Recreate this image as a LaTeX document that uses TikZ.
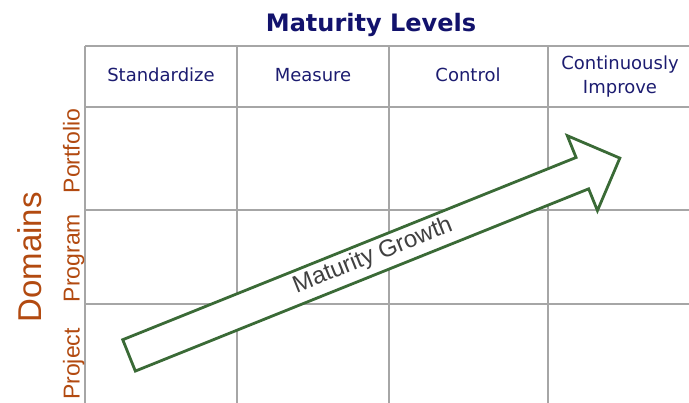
\documentclass[tikz,border=0pt]{standalone}
\usepackage{fontspec}
\setmainfont{Liberation Sans}
\newfontfamily\verdanafont{DejaVu Sans}
\usepackage{xcolor}
\usepackage{tikz}
\usetikzlibrary{shapes.arrows,positioning}
\definecolor{titlenavy}{RGB}{18,18,108}
\definecolor{levelnavy}{RGB}{28,28,112}
\definecolor{domainbrown}{RGB}{178,74,16}
\definecolor{growthgreen}{RGB}{58,106,54}
\definecolor{growthtext}{RGB}{64,64,64}
\definecolor{gridgray}{RGB}{166,166,166}

\begin{document}
\begin{tikzpicture}[
  x=1pt, y=-1pt,
  gridline/.style={draw=gridgray, line width=1.5pt},
  level/.style={align=center, text=levelnavy,
                font=\verdanafont\fontsize{18}{24}\selectfont},
  domainlabel/.style={rotate=90, anchor=base, text=domainbrown,
                 font=\fontsize{23}{26}\selectfont},
  growth/.style={single arrow, draw=growthgreen, fill=white, line width=2.8pt,
                 rotate=21.9, minimum height=529pt, inner xsep=0pt, inner ysep=6.5pt,
                 text height=16pt, text depth=2pt, single arrow head extend=23.5pt,
                 single arrow tip angle=90},
  growthtxt/.style={rotate=21.9, text=growthtext, font=\fontsize{24}{26}\selectfont}
]
\useasboundingbox (0,0) rectangle (689,403);

% grid
\foreach \y in {46,107,210,304}
  \draw[gridline] (85,\y) -- (689,\y);
\foreach \x in {85,237,389,548}
  \draw[gridline] (\x,46) -- (\x,403);

% maturity levels
\node[anchor=base, text=titlenavy, font=\verdanafont\bfseries\fontsize{24}{26}\selectfont] (title) at (371,31.5) {Maturity Levels};
\node[level] (std) at (161,75) {Standardize};
\node[level] (meas) at (313,75) {Measure};
\node[level] (ctrl) at (468,75) {Control};
\node[level] (impr) at (620,77) {Continuously\\Improve};

% domains
\node[domainlabel, font=\fontsize{33}{36}\selectfont] (domains) at (41.5,257.5) {Domains};
\node[domainlabel] (portfolio) at (79.5,151) {Portfolio};
\node[domainlabel] (program) at (79.5,258) {Program};
\node[domainlabel] (project) at (79.5,364) {Project};

% growth arrow
\node[growth] (growth) at (366.6,259.9) {};
\node[growthtxt] (growthlabel) at (373,256) {Maturity Growth};
\end{tikzpicture}
\end{document}
